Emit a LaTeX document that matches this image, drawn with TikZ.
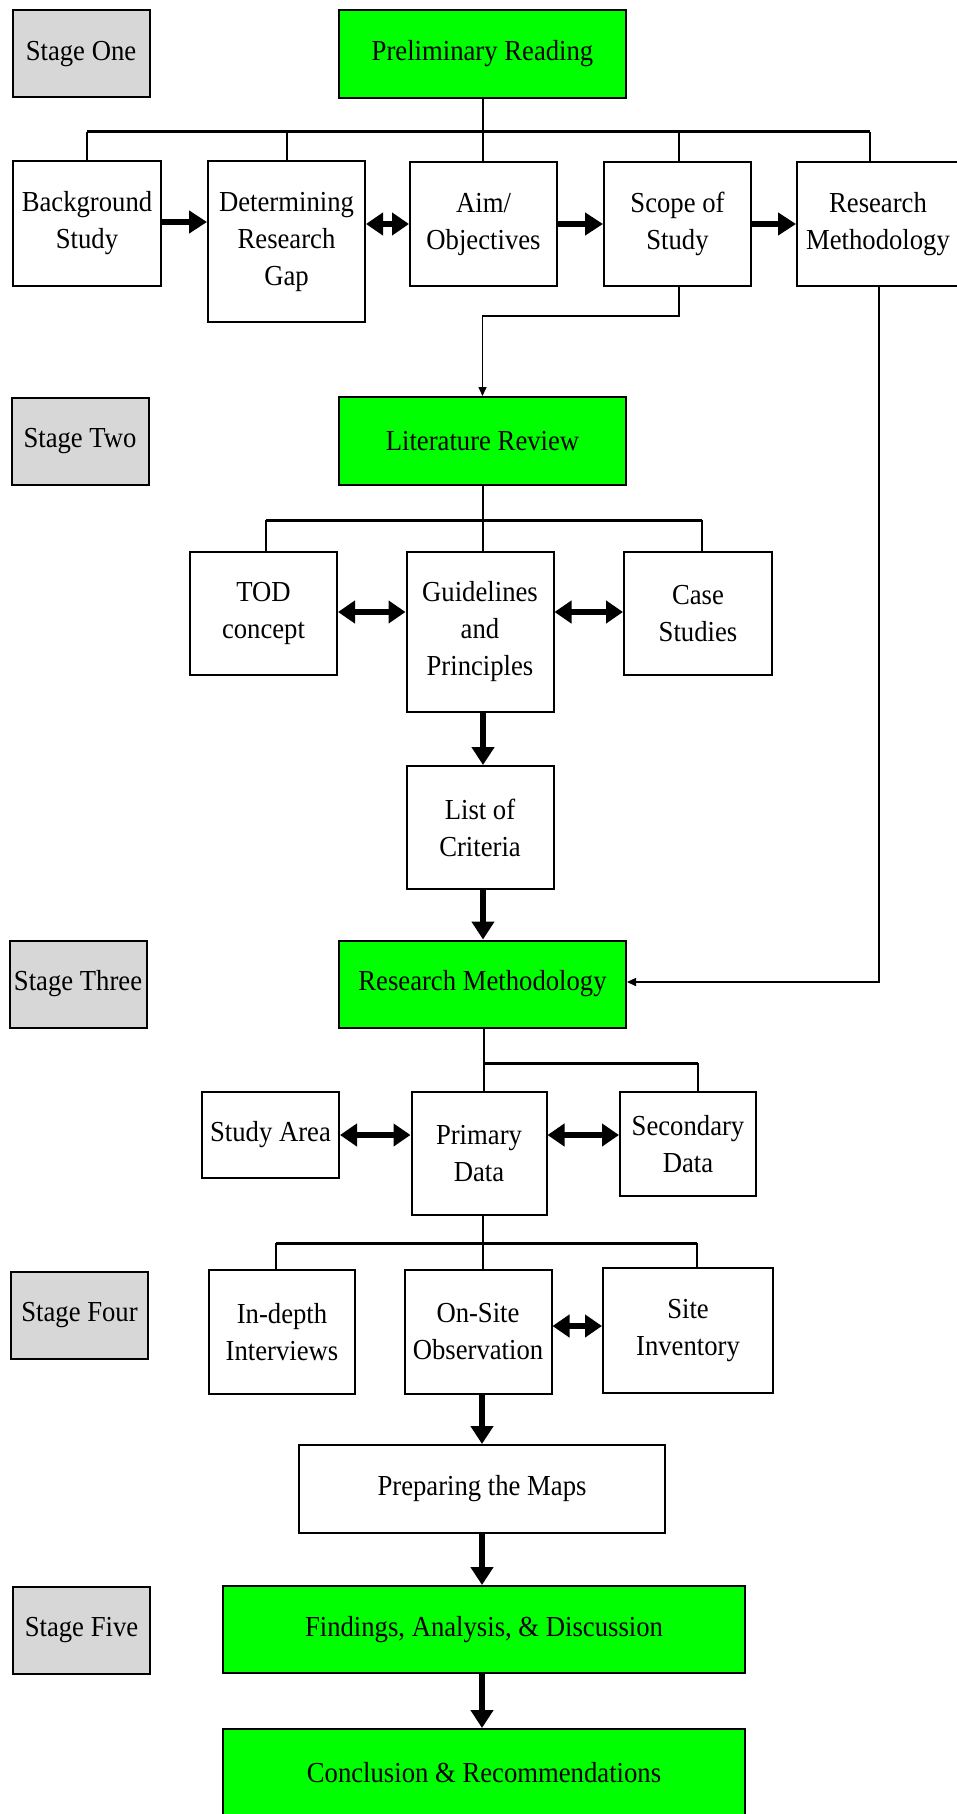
\documentclass[tikz,border=0pt]{standalone}
\usepackage{fontspec}
\setmainfont{Liberation Serif}[FakeStretch=0.92]
\usepackage{tikz}
\usetikzlibrary{positioning, arrows.meta}
\definecolor{stagegreen}{HTML}{00FF00}
\definecolor{stagegray}{HTML}{D7D7D7}

\begin{document}
\begin{tikzpicture}[x=1pt, y=-1pt,
    box/.style={draw, line width=2pt, fill=white, align=center, inner sep=0pt,
        font=\fontsize{29}{37}\selectfont},
    greenbox/.style={box, fill=stagegreen},
    stagebox/.style={box, fill=stagegray, minimum width=137pt, minimum height=87pt},
    link/.style={line width=2pt},
    bus/.style={line width=3pt},
    bigarrow/.style={line width=6pt, -{Triangle[length=18pt, width=22pt]}},
    twoway/.style={line width=6pt, {Triangle[length=17pt, width=22pt]}-{Triangle[length=17pt, width=22pt]}},
    thinarrow/.style={line width=1.5pt, -{Triangle[length=9pt, width=8pt]}}]
    \useasboundingbox (0,0) rectangle (957,1814);
    % Stage one
    \node (stageone) [stagebox] at (81,54) {Stage One};
    \node (prelim) [greenbox, minimum width=287pt, minimum height=88pt] at (482.5,54) {Preliminary Reading};
    \node (bgstudy) [box, minimum width=148pt, minimum height=125pt] at (87,223.5) {Background\\Study};
    \node (gap) [box, minimum width=157pt, minimum height=161pt] at (286.5,241.5) {Determining\\Research\\Gap};
    \node (aim) [box, minimum width=147pt, minimum height=124pt] at (483.5,224) {Aim/\\Objectives};
    \node (scope) [box, minimum width=147pt, minimum height=124pt] at (677.5,224) {Scope of\\Study};
    \node (resmeth) [box, minimum width=162pt, minimum height=124pt] at (878,224) {Research\\Methodology};
    \coordinate (busone) at (482.5,132);
    \draw [link] (prelim.south) -- (busone) -- (busone |- aim.north);
    \draw [bus] (bgstudy.north |- busone) -- ([xshift=-8pt]resmeth.north |- busone);
    \draw [link] (bgstudy.north |- busone) -- (bgstudy.north);
    \draw [link] (gap.north |- busone) -- (gap.north);
    \draw [link] ([xshift=1.5pt]scope.north |- busone) -- ([xshift=1.5pt]scope.north);
    \draw [link] ([xshift=-8pt]resmeth.north |- busone) -- ([xshift=-8pt]resmeth.north);
    \draw [bigarrow] ([yshift=1.5pt]bgstudy.east) -- ([yshift=1.5pt]bgstudy.east -| gap.west);
    \draw [twoway] (aim.west -| gap.east) -- (aim.west);
    \draw [bigarrow] (aim.east) -- (scope.west);
    \draw [bigarrow] (scope.east) -- (resmeth.west);
    % Stage two
    \node (stagetwo) [stagebox] at (80,441) {Stage Two};
    \node (litrev) [greenbox, minimum width=287pt, minimum height=88pt] at (482.5,441) {Literature Review};
    \draw [thinarrow] ([xshift=1.5pt]scope.south) -- ++(0,29) -| (litrev.north);
    \node (tod) [box, minimum width=147pt, minimum height=123pt] at (263.5,613.5) {TOD\\concept};
    \node (guide) [box, minimum width=147pt, minimum height=160pt] at (480,632) {Guidelines\\and\\Principles};
    \node (cases) [box, minimum width=148pt, minimum height=123pt] at (698,613.5) {Case\\Studies};
    \node (criteria) [box, minimum width=147pt, minimum height=123pt] at (480,827.5) {List of\\Criteria};
    \coordinate (bustwo) at (482.5,520);
    \draw [link] (litrev.south) -- (litrev.south |- guide.north);
    \draw [bus] ([xshift=2.5pt]tod.north |- bustwo) -- ([xshift=4pt]cases.north |- bustwo);
    \draw [link] ([xshift=2.5pt]tod.north |- bustwo) -- ([xshift=2.5pt]tod.north);
    \draw [link] ([xshift=4pt]cases.north |- bustwo) -- ([xshift=4pt]cases.north);
    \draw [twoway] ([yshift=1.5pt]tod.east) -- ([yshift=1.5pt]tod.east -| guide.west);
    \draw [twoway] ([yshift=1.5pt]cases.west -| guide.east) -- ([yshift=1.5pt]cases.west);
    \draw [bigarrow] ([xshift=3pt]guide.south) -- ([xshift=3pt]criteria.north);
    % Stage three
    \node (stagethree) [stagebox] at (78,984) {Stage Three};
    \node (resmain) [greenbox, minimum width=287pt, minimum height=87pt] at (482.5,984) {Research Methodology};
    \draw [bigarrow] ([xshift=3pt]criteria.south) -- ([xshift=3pt]criteria.south |- resmain.north);
    \draw [thinarrow] ([xshift=1pt]resmeth.south) |- ([yshift=2pt]resmain.east);
    \node (area) [box, minimum width=137pt, minimum height=86pt] at (270.5,1135) {Study Area};
    \node (primary) [box, minimum width=135pt, minimum height=123pt] at (479,1153.5) {Primary\\Data};
    \node (secondary) [box, minimum width=136pt, minimum height=104pt] at (688,1144) {Secondary\\Data};
    \coordinate (busthree) at (484,1063);
    \draw [link] (resmain.south -| busthree) -- (busthree |- primary.north);
    \draw [bus] (busthree) -- ([xshift=10pt]secondary.north |- busthree);
    \draw [link] ([xshift=10pt]secondary.north |- busthree) -- ([xshift=10pt]secondary.north);
    \draw [twoway] (area.east) -- (area.east -| primary.west);
    \draw [twoway] (area.east -| primary.east) -- (area.east -| secondary.west);
    % Stage four
    \node (stagefour) [stagebox] at (79.5,1315.5) {Stage Four};
    \node (indepth) [box, minimum width=146pt, minimum height=124pt] at (282,1332) {In-depth\\Interviews};
    \node (onsite) [box, minimum width=147pt, minimum height=124pt] at (478,1332) {On-Site\\Observation};
    \node (inventory) [box, minimum width=170pt, minimum height=125pt] at (688,1330.5) {Site\\Inventory};
    \coordinate (busfour) at (483,1243);
    \draw [link] (primary.south -| busfour) -- (busfour |- onsite.north);
    \draw [bus] ([xshift=-6pt]indepth.north |- busfour) -- ([xshift=9pt]inventory.north |- busfour);
    \draw [link] ([xshift=-6pt]indepth.north |- busfour) -- ([xshift=-6pt]indepth.north);
    \draw [link] ([xshift=9pt]inventory.north |- busfour) -- ([xshift=9pt]inventory.north);
    \draw [twoway] ([yshift=6pt]onsite.east) -- ([yshift=6pt]onsite.east -| inventory.west);
    \node (maps) [box, minimum width=366pt, minimum height=88pt] at (482,1489) {Preparing the Maps};
    \draw [bigarrow] (onsite.south -| maps.north) -- (maps.north);
    % Stage five
    \node (stagefive) [stagebox] at (81.5,1630) {Stage Five};
    \node (findings) [greenbox, minimum width=522pt, minimum height=87pt] at (484,1629.5) {Findings, Analysis, \& Discussion};
    \node (conclusion) [greenbox, minimum width=522pt, minimum height=88pt] at (484,1773) {Conclusion \& Recommendations};
    \draw [bigarrow] (maps.south) -- (maps.south |- findings.north);
    \draw [bigarrow] (findings.south -| maps.south) -- (maps.south |- conclusion.north);
\end{tikzpicture}
\end{document}
